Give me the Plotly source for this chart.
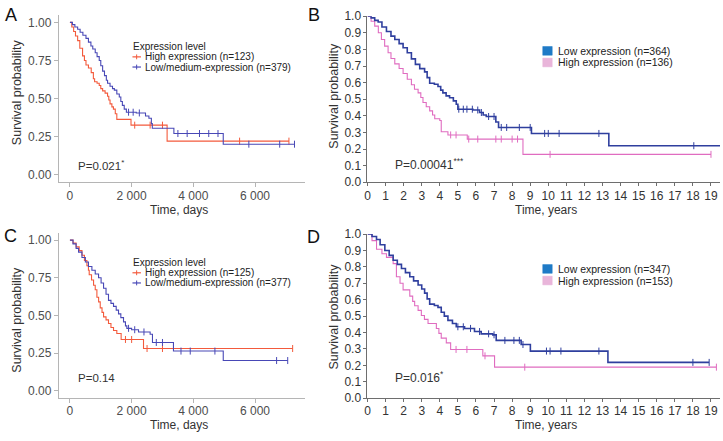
import plotly.graph_objects as go

W, H = 723, 441

# ---------------- data ----------------
# Panel A (days)
a_high_t = [0, 60, 120, 180, 250, 320, 410, 470, 520, 600, 690, 760, 800, 880, 950, 1000, 1060, 1140, 1220, 1260, 1300, 1360, 1410, 1470, 1520, 1980, 3150, 7100]
a_high_s = [1.0, 0.97, 0.94, 0.91, 0.88, 0.83, 0.78, 0.75, 0.72, 0.70, 0.67, 0.63, 0.61, 0.60, 0.585, 0.565, 0.55, 0.535, 0.515, 0.49, 0.465, 0.445, 0.43, 0.40, 0.363, 0.325, 0.22, 0.22]
a_low_t = [0, 80, 160, 250, 330, 420, 520, 600, 680, 740, 820, 880, 950, 1000, 1060, 1120, 1180, 1220, 1300, 1380, 1440, 1520, 1600, 1650, 1700, 1760, 1830, 2150, 2450, 2560, 2640, 2670, 3370, 4970, 7280]
a_low_s = [1.0, 0.985, 0.97, 0.955, 0.935, 0.915, 0.895, 0.87, 0.845, 0.825, 0.80, 0.775, 0.75, 0.715, 0.68, 0.65, 0.62, 0.60, 0.58, 0.565, 0.555, 0.53, 0.51, 0.48, 0.455, 0.43, 0.41, 0.405, 0.385, 0.37, 0.335, 0.305, 0.27, 0.20, 0.20]
a_high_cens = [2100, 2600, 3000, 5500, 7100]
a_low_cens = [1900, 2050, 2250, 3500, 3800, 4200, 4500, 4800, 5800, 6800, 7280]

# Panel C (days)
c_high_t = [0, 100, 200, 300, 390, 470, 550, 600, 625, 700, 766, 820, 874, 930, 982, 1040, 1090, 1170, 1250, 1330, 1413, 1520, 1660, 2385, 7220]
c_high_s = [1.0, 0.98, 0.955, 0.93, 0.90, 0.865, 0.83, 0.80, 0.77, 0.735, 0.70, 0.67, 0.62, 0.59, 0.55, 0.52, 0.49, 0.47, 0.446, 0.42, 0.40, 0.38, 0.34, 0.28, 0.28]
c_low_t = [0, 100, 200, 280, 390, 500, 600, 712, 820, 928, 1010, 1090, 1170, 1250, 1330, 1413, 1500, 1575, 1650, 1737, 1800, 1845, 2000, 2223, 2600, 2676, 3356, 4970, 7060]
c_low_s = [1.0, 0.975, 0.945, 0.92, 0.885, 0.855, 0.825, 0.80, 0.775, 0.75, 0.715, 0.68, 0.64, 0.60, 0.58, 0.56, 0.535, 0.51, 0.485, 0.457, 0.43, 0.414, 0.405, 0.39, 0.375, 0.32, 0.263, 0.20, 0.20]
c_high_cens = [1800, 2000, 2500, 3000, 7220]
c_low_cens = [1900, 2100, 2400, 2800, 3000, 3600, 3900, 4700, 6700, 7060]

# Panel B (years)
b_low_t = [0, 0.2, 0.4, 0.59, 0.8, 1.05, 1.3, 1.51, 1.75, 1.97, 2.2, 2.43, 2.65, 2.89, 3.16, 3.3, 3.44, 3.7, 3.9, 4.05, 4.17, 4.35, 4.54, 4.75, 4.91, 5.0, 5.83, 6.2, 6.4, 6.57, 7.1, 7.25, 9.07, 13.35, 19.5]
b_low_s = [1.0, 0.99, 0.975, 0.965, 0.935, 0.908, 0.88, 0.86, 0.835, 0.81, 0.78, 0.743, 0.71, 0.684, 0.665, 0.63, 0.596, 0.59, 0.577, 0.555, 0.538, 0.52, 0.509, 0.49, 0.47, 0.44, 0.435, 0.42, 0.405, 0.396, 0.363, 0.33, 0.294, 0.22, 0.22]
b_high_t = [0, 0.2, 0.4, 0.6, 0.77, 0.95, 1.14, 1.3, 1.51, 1.75, 1.97, 2.2, 2.43, 2.6, 2.8, 2.95, 3.07, 3.25, 3.44, 3.6, 3.72, 4.0, 4.08, 4.45, 5.52, 8.6, 19.0]
b_high_s = [1.0, 0.97, 0.94, 0.90, 0.86, 0.82, 0.78, 0.745, 0.713, 0.685, 0.655, 0.62, 0.587, 0.56, 0.538, 0.51, 0.48, 0.455, 0.43, 0.405, 0.382, 0.372, 0.304, 0.285, 0.26, 0.168, 0.168]
b_low_cens = [5.05, 5.3, 5.5, 5.8, 6.1, 6.3, 6.7, 7.0, 7.4, 7.7, 8.4, 9.0, 9.8, 10.0, 10.6, 12.8, 18.05]
b_high_cens = [4.6, 4.9, 5.6, 6.1, 7.1, 7.4, 8.0, 8.3, 10.1, 19.0]

# Panel D (years)
d_low_t = [0, 0.25, 0.5, 0.7, 0.96, 1.2, 1.42, 1.65, 1.88, 2.1, 2.34, 2.55, 2.8, 3.0, 3.16, 3.3, 3.44, 3.7, 3.9, 4.08, 4.25, 4.45, 4.7, 4.91, 5.37, 5.92, 6.29, 6.93, 7.12, 8.5, 9.01, 13.3, 18.9]
d_low_s = [1.0, 0.985, 0.967, 0.935, 0.90, 0.87, 0.84, 0.815, 0.79, 0.765, 0.74, 0.715, 0.69, 0.665, 0.64, 0.605, 0.573, 0.565, 0.553, 0.524, 0.50, 0.474, 0.455, 0.435, 0.425, 0.406, 0.392, 0.386, 0.352, 0.327, 0.287, 0.218, 0.218]
d_high_t = [0, 0.25, 0.5, 0.8, 1.05, 1.42, 1.6, 1.8, 1.97, 2.34, 2.5, 2.61, 2.8, 2.98, 3.15, 3.35, 3.81, 3.95, 4.08, 4.36, 4.6, 6.38, 7.03, 19.3]
d_high_s = [1.0, 0.96, 0.907, 0.88, 0.858, 0.82, 0.74, 0.70, 0.66, 0.622, 0.59, 0.563, 0.535, 0.504, 0.48, 0.455, 0.425, 0.395, 0.366, 0.337, 0.297, 0.258, 0.189, 0.189]
d_low_cens = [5.0, 5.3, 5.7, 6.2, 6.7, 7.0, 7.6, 8.1, 8.4, 8.6, 9.9, 10.1, 10.7, 12.8, 18.0, 18.9]
d_high_cens = [4.9, 5.5, 6.5, 8.7, 19.3]

days_ticks = [0, 2000, 4000, 6000]
days_ticktext = ["0", "2 000", "4 000", "6 000"]
prob4_ticks = [0, 0.25, 0.5, 0.75, 1.0]
prob4_text = ["0.00", "0.25", "0.50", "0.75", "1.00"]
years_ticks = list(range(0, 20))
prob10_ticks = [i / 10 for i in range(11)]
prob10_text = ["%.1f" % v for v in prob10_ticks]

legend_ac_title = "Expression level"
legend_a = ["High expression (n=123)", "Low/medium-expression (n=379)"]
legend_c = ["High expression (n=125)", "Low/medium-expression (n=377)"]
legend_b = ["Low expression (n=364)", "High expression (n=136)"]
legend_d = ["Low expression (n=347)", "High expression (n=153)"]
pvals = ["P=0.021<sup>*</sup>", "P=0.00041<sup>***</sup>", "P=0.14", "P=0.016<sup>*</sup>"]

# ---------------- styling ----------------
FONT = "Liberation Sans, Arial, sans-serif"
RED = "#F35A3C"
BLUE_AC = "#4848B6"
BLUE_BD = "#2F3F9E"
PINK = "#E06CC0"
SQ_BLUE = "#1F7AC6"
SQ_PINK = "#E9B5DA"


def px_x(p):
    return p / W


def px_y(p):
    return 1 - p / H


def surv_at(ts, ss, t):
    v = ss[0]
    for ti, si in zip(ts, ss):
        if ti <= t:
            v = si
    return v


fig = go.Figure()


def add_curve(ts, ss, cens, color, width, xa, ya):
    fig.add_trace(go.Scatter(x=ts, y=ss, mode="lines", line=dict(color=color, width=width, shape="hv"),
                             xaxis=xa, yaxis=ya, showlegend=False, hoverinfo="skip"))
    fig.add_trace(go.Scatter(x=cens, y=[surv_at(ts, ss, c) for c in cens], mode="markers",
                             marker=dict(symbol="line-ns-open", size=5, color=color,
                                         line=dict(color=color, width=1)),
                             xaxis=xa, yaxis=ya, showlegend=False, hoverinfo="skip"))


add_curve(a_high_t, a_high_s, a_high_cens, RED, 1.1, "x", "y")
add_curve(a_low_t, a_low_s, a_low_cens, BLUE_AC, 1.1, "x", "y")
add_curve(b_high_t, b_high_s, b_high_cens, PINK, 1.1, "x2", "y2")
add_curve(b_low_t, b_low_s, b_low_cens, BLUE_BD, 1.6, "x2", "y2")
add_curve(c_high_t, c_high_s, c_high_cens, RED, 1.1, "x3", "y3")
add_curve(c_low_t, c_low_s, c_low_cens, BLUE_AC, 1.1, "x3", "y3")
add_curve(d_high_t, d_high_s, d_high_cens, PINK, 1.1, "x4", "y4")
add_curve(d_low_t, d_low_s, d_low_cens, BLUE_BD, 1.6, "x4", "y4")

ac_axis = dict(showgrid=False, zeroline=False, showline=True, linecolor="#B5B5B5", linewidth=1,
               ticks="outside", ticklen=4, tickcolor="#B5B5B5", tickfont=dict(family=FONT, size=12, color="#4D4D4D"))
bd_axis = dict(showgrid=False, zeroline=False, showline=True, linecolor="#6E6E6E", linewidth=1,
               ticks="outside", ticklen=3, tickcolor="#6E6E6E", tickfont=dict(family=FONT, size=12, color="#333333"))

xA = [px_x(56), px_x(303)]
xB = [px_x(366), px_x(720)]

fig.update_layout(
    width=W, height=H, margin=dict(l=0, r=0, t=0, b=0),
    paper_bgcolor="white", plot_bgcolor="white", showlegend=False,
    font=dict(family=FONT),
    xaxis=dict(domain=xA, range=[-362, 7612], tickvals=days_ticks, ticktext=days_ticktext, anchor="y",
               ticklabelstandoff=-2, **ac_axis),
    yaxis=dict(domain=[px_y(181), px_y(8)], range=[-0.05, 1.05], tickvals=prob4_ticks, ticktext=prob4_text, anchor="x", **ac_axis),
    xaxis2=dict(domain=xB, range=[0, 19.5], tickvals=years_ticks, anchor="y2", ticklabelstandoff=-1, **bd_axis),
    yaxis2=dict(domain=[px_y(181), px_y(9.5)], range=[0, 1.0], tickvals=prob10_ticks, ticktext=prob10_text, anchor="x2", **bd_axis),
    xaxis3=dict(domain=xA, range=[-362, 7612], tickvals=days_ticks, ticktext=days_ticktext, anchor="y3",
                ticklabelstandoff=-3, **ac_axis),
    yaxis3=dict(domain=[px_y(404), px_y(233)], range=[-0.05, 1.05], tickvals=prob4_ticks, ticktext=prob4_text, anchor="x3", **ac_axis),
    xaxis4=dict(domain=xB, range=[0, 19.5], tickvals=years_ticks, anchor="y4", ticklabelstandoff=-2, **bd_axis),
    yaxis4=dict(domain=[px_y(404), px_y(234.5)], range=[0, 1.0], tickvals=prob10_ticks, ticktext=prob10_text, anchor="x4", **bd_axis),
)

ann = []
shapes = []


def text(x, y, s, size=12, color="#333333", xanchor="center", angle=0):
    ann.append(dict(x=px_x(x), y=px_y(y), xref="paper", yref="paper", text=s, showarrow=False,
                    xanchor=xanchor, yanchor="middle", textangle=angle,
                    font=dict(family=FONT, size=size, color=color)))


# panel letters
for letter, x, y in [("A", 8, 8), ("B", 312, 8), ("C", 8, 237), ("D", 312, 238)]:
    text(x, y, letter, size=18, color="#111111")

# axis titles
text(14, 88, "Survival probability", size=12.5, angle=-90)
text(14, 323, "Survival probability", size=12.5, angle=-90)
text(332, 92, "Survival probability", size=12.5, angle=-90)
text(332, 320, "Survival probability", size=12.5, angle=-90)
text(177, 210, "Time, days", size=12)
text(177, 432, "Time, days", size=12)
text(545, 210, "Time, years", size=12)
text(545, 432, "Time, years", size=12)

# p-values
text(73, 163, pvals[0], size=11.5, xanchor="left")
text(392, 162.5, pvals[1], size=12, xanchor="left")
text(73, 383, pvals[2], size=11.5, xanchor="left")
text(392, 382.5, pvals[3], size=12, xanchor="left")


# A / C legends
def legend_ac(top, labels):
    text(129, top, legend_ac_title, size=10, color="#222222", xanchor="left")
    for i, (lab, col) in enumerate(zip(labels, [RED, BLUE_AC])):
        yy = top + 11 + 10.5 * i
        shapes.append(dict(type="line", xref="paper", yref="paper", x0=px_x(130), x1=px_x(138.5),
                           y0=px_y(yy), y1=px_y(yy), line=dict(color=col, width=1.2)))
        shapes.append(dict(type="line", xref="paper", yref="paper", x0=px_x(134.2), x1=px_x(134.2),
                           y0=px_y(yy - 2.5), y1=px_y(yy + 2.5), line=dict(color=col, width=1)))
        text(141, yy, lab, size=10, color="#222222", xanchor="left")


legend_ac(40.5, legend_a)
legend_ac(263.5, legend_c)


# B / D legends
def legend_bd(y1, labels):
    for i, (lab, col) in enumerate(zip(labels, [SQ_BLUE, SQ_PINK])):
        yy = y1 + 12 * i
        shapes.append(dict(type="rect", xref="paper", yref="paper", x0=px_x(542), x1=px_x(551.5),
                           y0=px_y(yy - 4.5), y1=px_y(yy + 4.5), fillcolor=col,
                           line=dict(color=col, width=0.5)))
        text(555, yy, lab, size=10.5, color="#222222", xanchor="left")


legend_bd(45.3, legend_b)
legend_bd(270.5, legend_d)

fig.update_layout(annotations=ann, shapes=shapes)
fig.write_html("out.html", config={"displayModeBar": False},
               post_script="document.body.style.margin='0';document.body.style.padding='0';")
